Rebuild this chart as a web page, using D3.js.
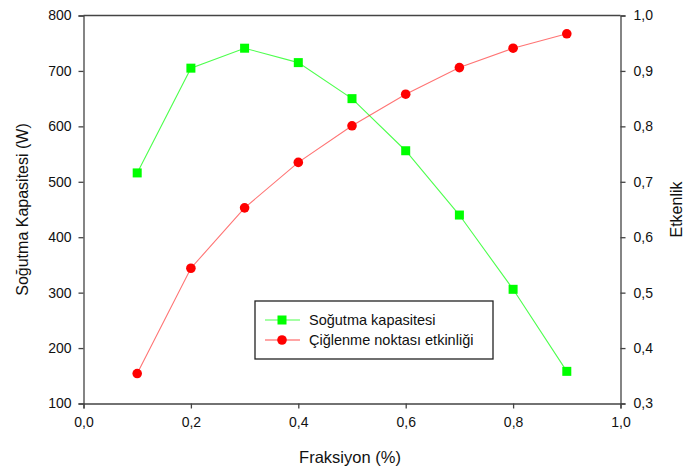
<!DOCTYPE html>
<html>
<head>
<meta charset="utf-8">
<script src="https://cdn.jsdelivr.net/npm/d3@7"></script>
<style>
  body { margin: 0; background: #fff; }
  svg text { font-family: "Liberation Sans", Arial, sans-serif; fill: #111; }
</style>
</head>
<body>
<svg id="chart" width="684" height="473"></svg>
<script>
// fraksiyon values and the two series
const fraksiyon = [0.1, 0.2, 0.3, 0.4, 0.5, 0.6, 0.7, 0.8, 0.9];
const sogutma = [516, 705, 741, 715, 650, 556, 440, 306, 158];
const etkinlik = [0.354, 0.544, 0.653, 0.735, 0.801, 0.858, 0.906, 0.941, 0.967];

const xTicks = [0, 0.2, 0.4, 0.6, 0.8, 1.0];
const leftTicks = [100, 200, 300, 400, 500, 600, 700, 800];
const rightTicks = [0.3, 0.4, 0.5, 0.6, 0.7, 0.8, 0.9, 1.0];

const svg = d3.select("#chart");
const m = { left: 83.5, right: 620.5, top: 15.5, bottom: 403.5 };
const axisColor = "#444";

const x = d3.scaleLinear().domain([0, 1]).range([m.left, m.right]);
const yL = d3.scaleLinear().domain([100, 800]).range([m.bottom, m.top]);
const yR = d3.scaleLinear().domain([0.3, 1.0]).range([m.bottom, m.top]);

const comma = d => d3.format(".1f")(d).replace(".", ",");

function styleAxis(g) {
  g.selectAll("path, line").attr("stroke", axisColor).attr("stroke-width", 1.3);
  g.selectAll("text").attr("font-size", 14).attr("fill", "#111");
}

svg.append("g")
  .attr("transform", `translate(0,${m.bottom})`)
  .call(d3.axisBottom(x).tickValues(xTicks).tickFormat(comma).tickSizeOuter(0).tickSize(5).tickPadding(9))
  .call(styleAxis);

svg.append("g")
  .attr("transform", `translate(${m.left},0)`)
  .call(d3.axisLeft(yL).tickValues(leftTicks).tickFormat(d3.format("d")).tickSizeOuter(0).tickSize(5).tickPadding(7))
  .call(styleAxis);

svg.append("g")
  .attr("transform", `translate(${m.right},0)`)
  .call(d3.axisRight(yR).tickValues(rightTicks).tickFormat(comma).tickSizeOuter(0).tickSize(5).tickPadding(8))
  .call(styleAxis);

// top border
svg.append("line")
  .attr("x1", m.left).attr("x2", m.right).attr("y1", m.top).attr("y2", m.top)
  .attr("stroke", axisColor).attr("stroke-width", 1.3);

// axis titles
svg.append("text")
  .attr("x", 350).attr("y", 463)
  .attr("text-anchor", "middle").attr("font-size", 16.5)
  .text("Fraksiyon (%)");

svg.append("text")
  .attr("transform", `translate(28,${(m.top + m.bottom) / 2}) rotate(-90)`)
  .attr("text-anchor", "middle").attr("font-size", 16)
  .text("Soğutma Kapasitesi (W)");

svg.append("text")
  .attr("transform", `translate(682,${(m.top + m.bottom) / 2}) rotate(-90)`)
  .attr("text-anchor", "middle").attr("font-size", 16)
  .text("Etkenlik");

// series
const green = "#00ff00", red = "#ff0000";

const gData = fraksiyon.map((f, i) => [f, sogutma[i]]);
const rData = fraksiyon.map((f, i) => [f, etkinlik[i]]);

svg.append("path")
  .datum(gData)
  .attr("fill", "none").attr("stroke", green).attr("stroke-width", 1.1).attr("stroke-opacity", 0.7)
  .attr("d", d3.line().x(d => x(d[0])).y(d => yL(d[1])));

svg.append("path")
  .datum(rData)
  .attr("fill", "none").attr("stroke", red).attr("stroke-width", 1.1).attr("stroke-opacity", 0.55)
  .attr("d", d3.line().x(d => x(d[0])).y(d => yR(d[1])));

svg.selectAll("rect.g")
  .data(gData).enter().append("rect")
  .attr("class", "g")
  .attr("x", d => x(d[0]) - 4.5).attr("y", d => yL(d[1]) - 4.5)
  .attr("width", 9).attr("height", 9)
  .attr("fill", green);

svg.selectAll("circle.r")
  .data(rData).enter().append("circle")
  .attr("class", "r")
  .attr("cx", d => x(d[0])).attr("cy", d => yR(d[1]))
  .attr("r", 4.8)
  .attr("fill", red);

// legend
const lg = svg.append("g");
lg.append("rect")
  .attr("x", 255).attr("y", 301).attr("width", 238).attr("height", 58)
  .attr("fill", "#fff").attr("stroke", "#222").attr("stroke-width", 1.3);

const legendItems = [
  { label: "Soğutma kapasitesi", color: green, shape: "square", y: 320 },
  { label: "Çiğlenme noktası etkinliği", color: red, shape: "circle", y: 340 }
];

legendItems.forEach(it => {
  lg.append("line")
    .attr("x1", 265).attr("x2", 300).attr("y1", it.y).attr("y2", it.y)
    .attr("stroke", it.color).attr("stroke-width", 1.2).attr("stroke-opacity", 0.7);
  if (it.shape === "square") {
    lg.append("rect").attr("x", 282 - 4.5).attr("y", it.y - 4.5)
      .attr("width", 9).attr("height", 9).attr("fill", it.color);
  } else {
    lg.append("circle").attr("cx", 282).attr("cy", it.y).attr("r", 4.8).attr("fill", it.color);
  }
  lg.append("text")
    .attr("x", 309).attr("y", it.y + 5)
    .attr("font-size", 14.5)
    .text(it.label);
});
</script>
</body>
</html>
